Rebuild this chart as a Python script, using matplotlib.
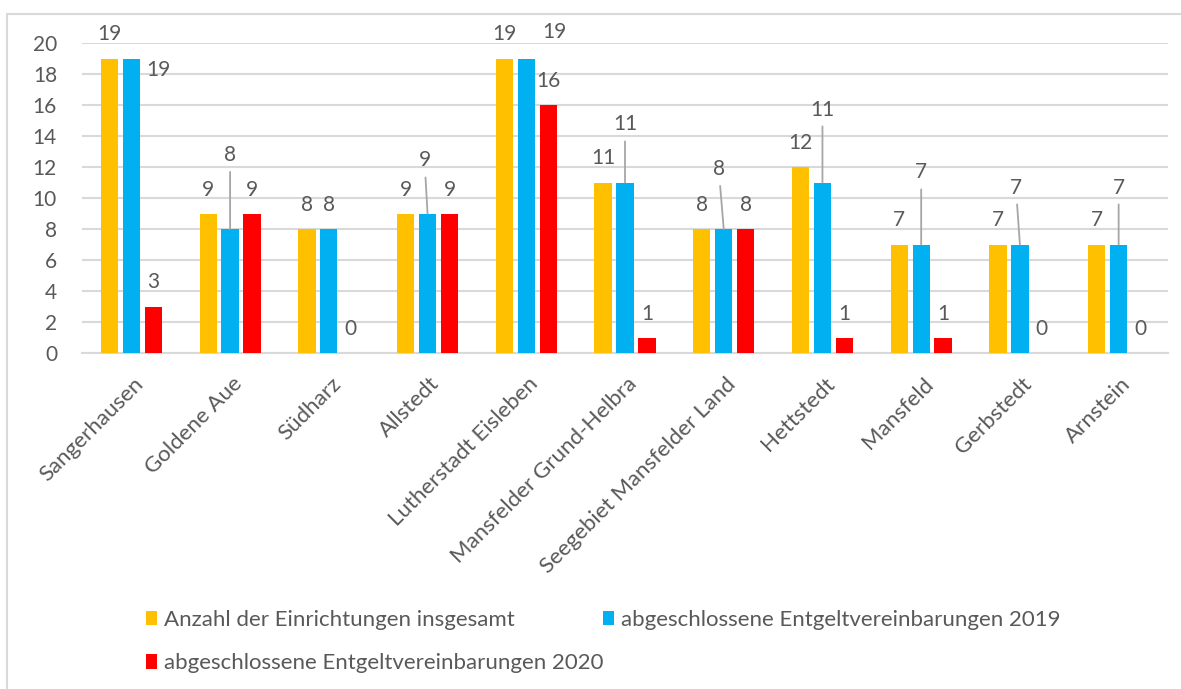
import numpy as np
import matplotlib
matplotlib.use('Agg')
import matplotlib.pyplot as plt
import matplotlib.transforms as mtransforms
from matplotlib.patches import Rectangle

plt.rcParams['font.family'] = ['Lato', 'DejaVu Sans']

categories = ['Sangerhausen', 'Goldene Aue', 'Südharz', 'Allstedt', 'Lutherstadt Eisleben',
              'Mansfelder Grund-Helbra', 'Seegebiet Mansfelder Land', 'Hettstedt',
              'Mansfeld', 'Gerbstedt', 'Arnstein']
total = [19, 9, 8, 9, 19, 11, 8, 12, 7, 7, 7]
agreed_2019 = [19, 8, 8, 9, 19, 11, 8, 11, 7, 7, 7]
agreed_2020 = [3, 9, 0, 9, 16, 1, 8, 1, 1, 0, 0]
series_names = ['Anzahl der Einrichtungen insgesamt',
                'abgeschlossene Entgeltvereinbarungen 2019',
                'abgeschlossene Entgeltvereinbarungen 2020']
colors = ['#FFC000', '#00B0F0', '#FF0000']

# label placement for the 2019 series (pixel offsets from bar top, leader line yes/no)
label_2019 = [(27, -11, False), (0, 74, True), (0, 24, False), (-3, 53, True), (28, 26, False),
              (0, 58, True), (-5, 60, True), (0, 73, True), (0, 72, True), (-4, 57, True),
              (0, 57, True)]

txt_col = '#595959'
grid_col = '#D9D9D9'
fs = 15

fig = plt.figure(figsize=(11.81, 6.89), dpi=100)
ax = fig.add_axes([82 / 1181, 1 - 353 / 689, 1086 / 1181, 310 / 689])

# outer chart frame
fig.patches.append(Rectangle((7 / 1181, -0.05), 1.1, 1 - 14 / 689 + 0.05, transform=fig.transFigure,
                             fill=False, edgecolor=grid_col, linewidth=1.5, zorder=0))

x = np.arange(len(categories))
step = 0.222
width = 0.175
all_series = [total, agreed_2019, agreed_2020]
for i, (vals, col, name) in enumerate(zip(all_series, colors, series_names)):
    pos = x + (i - 1) * step
    ax.bar(pos, vals, width=width, color=col, label=name, zorder=3)
    for j, (p, v) in enumerate(zip(pos, vals)):
        dx, dy, leader = (0, 24, False)
        if i == 1:
            dx, dy, leader = label_2019[j]
        if leader:
            ax.annotate(str(v), xy=(p, v), xytext=(dx, dy), textcoords='offset pixels',
                        ha='center', va='center', fontsize=fs, color=txt_col,
                        arrowprops=dict(arrowstyle='-', color='#A6A6A6', lw=1.3,
                                        shrinkA=3, shrinkB=0))
        else:
            ax.annotate(str(v), xy=(p, v), xytext=(dx, dy), textcoords='offset pixels',
                        ha='center', va='center', fontsize=fs, color=txt_col)

ax.set_xlim(-0.5, len(categories) - 0.5)
ax.set_ylim(0, 20)
ax.set_yticks(range(0, 21, 2))
ax.yaxis.grid(True, color=grid_col, linewidth=1.5, zorder=0)
ax.set_axisbelow(True)
for s in ['top', 'right', 'left']:
    ax.spines[s].set_visible(False)
ax.spines['bottom'].set_color(grid_col)
ax.spines['bottom'].set_linewidth(1.5)
ax.tick_params(length=0, labelsize=fs, labelcolor=txt_col)
ax.tick_params(axis='y', pad=18)
ax.set_xticks(x)
ax.set_xticklabels(categories, rotation=45, ha='right', va='center', rotation_mode='anchor',
                   fontsize=16)
ax.tick_params(axis='x', pad=20)
shift = mtransforms.ScaledTranslation(9 / 100, 0, fig.dpi_scale_trans)
for lbl in ax.get_xticklabels():
    lbl.set_transform(lbl.get_transform() + shift)

# row-wise legend order like Excel
handles, labels = ax.get_legend_handles_labels()
order = [0, 2, 1]
fig.legend([handles[k] for k in order], [labels[k] for k in order], ncol=2, loc='upper left',
           bbox_to_anchor=(126 / 1181, 1 - 590 / 689), frameon=False, fontsize=16,
           labelcolor=txt_col, handlelength=0.5, handleheight=0.6, handletextpad=0.3,
           columnspacing=0.0, labelspacing=1.05)

fig.savefig('out.png', dpi=100)
